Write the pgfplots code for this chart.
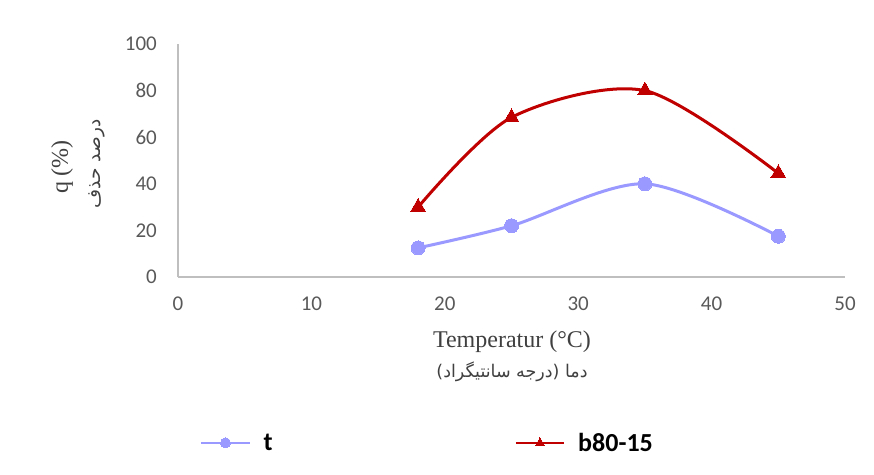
\documentclass[border=0pt]{standalone}
\usepackage{fontspec}
\setmainfont{Carlito}
\newfontfamily\serif{Liberation Serif}
\newfontfamily\arabicfont[Script=Arabic]{DejaVu Sans}
\usepackage{pgfplots}
\pgfplotsset{compat=1.18}
\TeXXeTstate=1
\definecolor{tcol}{RGB}{153,153,255}
\definecolor{bcol}{RGB}{192,0,0}
\definecolor{axgray}{RGB}{191,191,191}
\definecolor{ticktext}{RGB}{89,89,89}
\definecolor{labtext}{RGB}{64,64,64}
\begin{document}
\begin{tikzpicture}
\path[use as bounding box] (-178pt,-197pt) rectangle (696pt,277pt);
\begin{axis}[
  at={(0pt,0pt)}, anchor=south west,
  scale only axis, width=667pt, height=233pt,
  xmin=0, xmax=50, ymin=0, ymax=100,
  xtick={0,10,...,50}, ytick={0,20,...,100},
  axis x line*=bottom, axis y line*=left,
  major tick length=0pt, tick style={draw=none},
  axis line style={draw=axgray, line width=1.5pt},
  /pgf/number format/assume math mode=true,
  tick label style={font=\fontsize{21}{24}\selectfont, text=ticktext, inner sep=0pt},
  xticklabel style={anchor=center, yshift=-27pt},
  yticklabel style={anchor=east, xshift=-21pt},
  legend columns=2,
  legend style={at={(0.033,-0.712)}, anchor=west, draw=none, fill=none, inner sep=0pt,
    font=\bfseries\fontsize{26}{30}\selectfont,
    /tikz/every odd column/.append style={column sep=11pt},
    /tikz/every even column/.append style={column sep=240pt}},
  legend image code/.code={\draw[mark repeat=2,mark phase=2,#1,line width=2.5pt,mark size=5pt] plot coordinates {(0pt,0pt) (24pt,0pt) (48pt,0pt)};},
]
\addplot[color=tcol, line width=3pt, smooth, mark=*, mark size=7pt, mark options={fill=tcol, draw=tcol, line width=0pt}]
  coordinates {(18,12.5) (25,22) (35,40) (45,17.5)};
\addlegendentry{t}
\addplot[color=bcol, line width=3pt, smooth, mark=triangle*, mark size=8.5pt, mark options={fill=bcol, draw=bcol, line width=0pt}]
  coordinates {(18,30) (25,68.5) (35,80) (45,44.5)};
\addlegendentry{b80-15}
\end{axis}
\node[text=labtext, font=\serif\fontsize{24}{28}\selectfont] at (334pt,-65pt) {Temperatur (°C)};
\node[text=labtext, font=\arabicfont\fontsize{17.5}{20}\selectfont] at (334pt,-95pt) {\beginR دما (درجه سانتیگراد)\endR};
\node[rotate=90, text=labtext, font=\serif\fontsize{24}{28}\selectfont] at (-116pt,110pt) {q (\%)};
\node[rotate=90, text=labtext, font=\arabicfont\fontsize{18.5}{20}\selectfont] at (-81pt,113pt) {\beginR درصد حذف\endR};
\end{tikzpicture}
\end{document}
